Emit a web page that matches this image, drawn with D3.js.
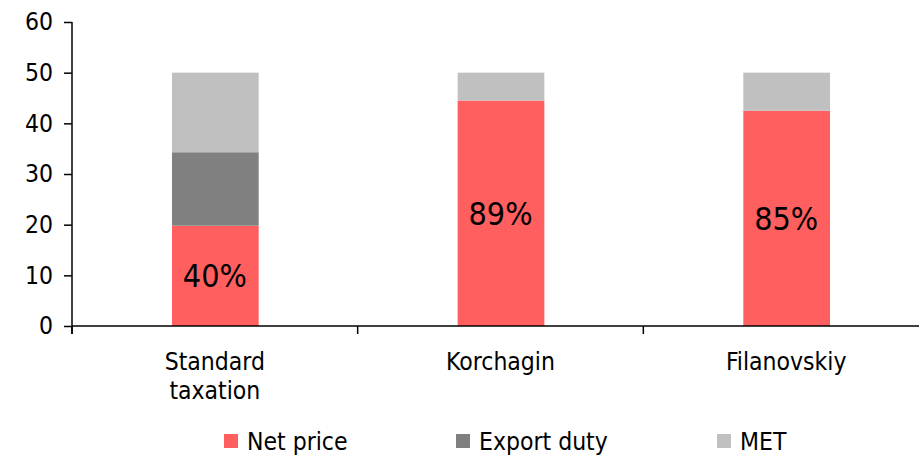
<!DOCTYPE html>
<html><head><meta charset="utf-8">
<script src="https://cdn.jsdelivr.net/npm/d3@7"></script>
<style>body{margin:0;background:#fff}svg{display:block;font-family:"DejaVu Sans Condensed","DejaVu Sans",sans-serif}</style>
</head><body><svg id="c" width="919" height="456"></svg>
<script>
const categories = [["Standard","taxation"],["Korchagin"],["Filanovskiy"]];
const seriesNames = ["Net price","Export duty","MET"];
const seriesColors = ["#FF5F5F","#808080","#C0C0C0"];
const netPrice = [19.8, 44.5, 42.5];
const exportDuty = [14.5, 0, 0];
const met = [15.7, 5.5, 7.5];
const shareLabels = ["40%","89%","85%"];
const yTicks = [0,10,20,30,40,50,60];

const FONT = "'DejaVu Sans Condensed','DejaVu Sans',sans-serif";
const FS = 24.5;
const svg = d3.select("#c");
const x0 = 72, x1 = 929, yTop = 22, yBot = 326;
const keys = categories.map((c,i)=>i);
const x = d3.scaleBand().domain(keys).range([x0,x1]).paddingInner(0.7).paddingOuter(0.35);
const xb = d3.scaleBand().domain(keys).range([x0,x1]);
const y = d3.scaleLinear().domain([0,60]).range([yBot,yTop]);

const rows = keys.map(i=>({i, s0:netPrice[i], s1:exportDuty[i], s2:met[i]}));
const stack = d3.stack().keys(["s0","s1","s2"])(rows);

svg.append("g").selectAll("g").data(stack).join("g")
  .attr("fill",(d,k)=>seriesColors[k])
  .selectAll("rect").data(d=>d).join("rect")
  .attr("x",d=>x(d.data.i)).attr("width",x.bandwidth()+1)
  .attr("y",d=>y(d[1])).attr("height",d=>y(d[0])-y(d[1]));

// share labels
svg.append("g").selectAll("text").data(keys).join("text")
  .attr("x",i=>x(i)+x.bandwidth()/2)
  .attr("y",i=>y(netPrice[i]/2))
  .attr("dy","0.36em").attr("text-anchor","middle")
  .attr("font-family",FONT)
  .attr("font-size",32).attr("fill","#000").text(i=>shareLabels[i]);

// y axis
const ya = svg.append("g").attr("transform",`translate(${x0},0)`)
  .call(d3.axisLeft(y).tickValues(yTicks).tickSize(8).tickPadding(11).tickSizeOuter(0));
ya.select(".domain").attr("d",`M0,${yTop}V${yBot+8}`);
ya.selectAll("line,path").attr("stroke","#000").attr("stroke-width",1.5);
ya.selectAll("text").attr("font-size",FS).attr("font-family",FONT).attr("fill","#000");

// x axis
const xg = svg.append("g").attr("transform",`translate(0,${yBot})`);
xg.append("line").attr("x1",x0).attr("x2",x1).attr("stroke","#000").attr("stroke-width",1.5);
xg.selectAll(".tk").data(keys.concat([keys.length])).join("line").attr("class","tk")
  .attr("x1",i=>x0+xb.step()*i).attr("x2",i=>x0+xb.step()*i)
  .attr("y1",0).attr("y2",8).attr("stroke","#000").attr("stroke-width",1.5);
const xl = xg.selectAll(".lb").data(keys).join("text").attr("class","lb")
  .attr("text-anchor","middle").attr("font-size",FS).attr("font-family",FONT).attr("fill","#000")
  .attr("transform",i=>`translate(${x(i)+x.bandwidth()/2},0)`);
xl.selectAll("tspan").data(i=>categories[i]).join("tspan")
  .attr("x",0).attr("y",(d,j)=>44+j*29).text(d=>d);

// legend
const legX = [224, 456, 717];
const lg = svg.append("g").selectAll("g").data(seriesNames).join("g")
  .attr("transform",(d,k)=>`translate(${legX[k]},441)`);
lg.append("rect").attr("x",0).attr("y",-7).attr("width",14).attr("height",14).attr("fill",(d,k)=>seriesColors[k]);
lg.append("text").attr("x",23).attr("dy","0.36em").attr("font-size",FS).attr("font-family",FONT).attr("fill","#000").text(d=>d);
</script></body></html>
